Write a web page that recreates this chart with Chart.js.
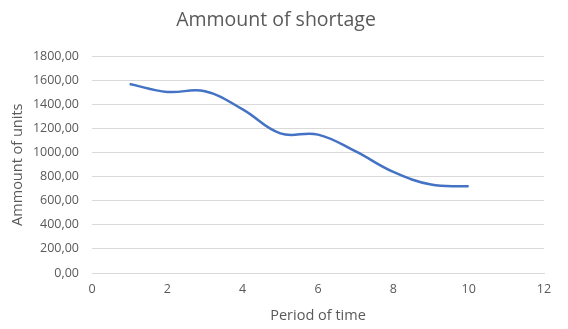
<!DOCTYPE html>
<html>
<head>
<meta charset="utf-8">
<script src="https://cdn.jsdelivr.net/npm/chart.js@4"></script>
<style>
  html, body { margin: 0; padding: 0; background: #fff; }
  #wrap { width: 568px; height: 329px; }
</style>
</head>
<body>
<div id="wrap"><canvas id="c"></canvas></div>
<script>
// Datos
const periods   = [1, 2, 3, 4, 5, 6, 7, 8, 9, 10];
const shortage  = [1570, 1505, 1510, 1360, 1160, 1150, 1010, 840, 735, 720];
const xTicks    = [0, 2, 4, 6, 8, 10, 12];
const yTicks    = [0, 200, 400, 600, 800, 1000, 1200, 1400, 1600, 1800];

const TXT  = '#595959';
const GRID = '#d9d9d9';
const FONT = "'Open Sans', sans-serif";

const points = periods.map((p, i) => ({ x: p, y: shortage[i] }));

new Chart(document.getElementById('c'), {
  type: 'line',
  data: {
    datasets: [{
      label: 'Ammount of shortage',
      data: points,
      borderColor: '#4472c4',
      borderWidth: 2.5,
      tension: 0.4,
      pointRadius: 0,
      fill: false
    }]
  },
  options: {
    responsive: true, maintainAspectRatio: false,
    animation: false,
    layout: { padding: { left: 8, right: 24, top: 0, bottom: 0 } },
    plugins: {
      legend: { display: false },
      tooltip: { enabled: false },
      title: {
        display: true,
        text: 'Ammount of shortage',
        color: TXT,
        font: { family: FONT, size: 19.5, weight: 'normal' },
        padding: { top: 9, bottom: 24 }
      }
    },
    scales: {
      x: {
        type: 'linear',
        min: 0, max: 12,
        afterBuildTicks: s => { s.ticks = xTicks.map(v => ({ value: v })); },
        afterFit: s => { s.height = 56; },
        grid: { display: false, drawTicks: false },
        border: { display: true, color: GRID, width: 1 },
        ticks: { color: TXT, font: { family: FONT, size: 12.5 }, padding: 9 },
        title: { display: true, text: 'Period of time', color: TXT,
                 font: { family: FONT, size: 14.5 }, padding: { top: 4, bottom: 4 } }
      },
      y: {
        min: 0, max: 1800,
        afterBuildTicks: s => { s.ticks = yTicks.map(v => ({ value: v })); },
        afterFit: s => { s.width = 84; },
        grid: { color: GRID, drawTicks: false },
        border: { display: false },
        ticks: {
          color: TXT, font: { family: FONT, size: 12.5 }, padding: 13,
          callback: v => v.toFixed(2).replace('.', ',')
        },
        title: { display: true, text: 'Ammount of units', color: TXT,
                 font: { family: FONT, size: 14.5 }, padding: { top: 1, bottom: 4 } }
      }
    }
  }
});
</script>
</body>
</html>
